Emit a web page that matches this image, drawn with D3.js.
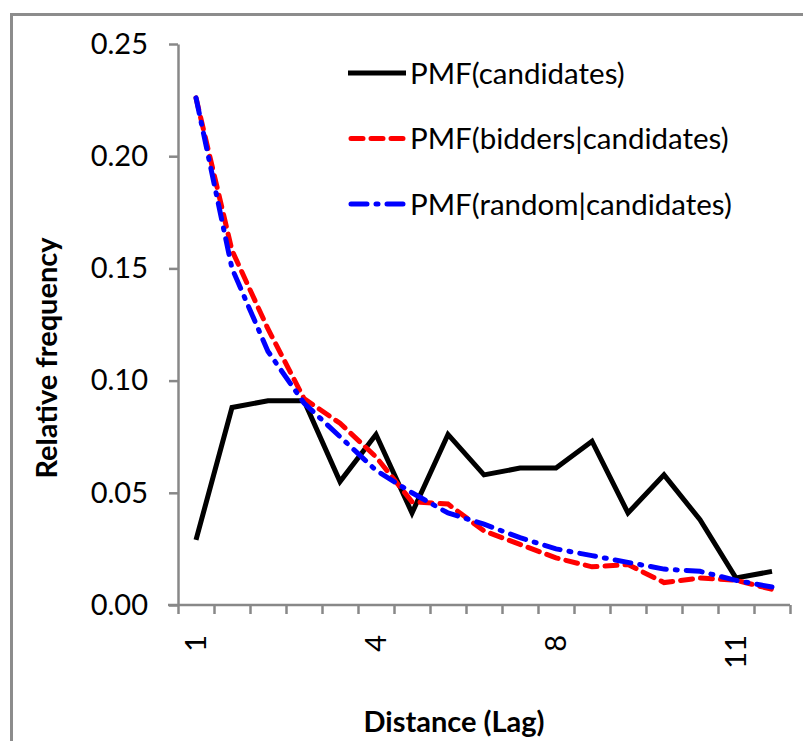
<!DOCTYPE html>
<html>
<head>
    <title>PMF of distance (lag)</title>
    <script src="https://d3js.org/d3.v7.min.js"></script>
    <style>
        body { margin: 0; background: #fff; }
        text { font-family: Lato, "Open Sans", sans-serif; }
    </style>
</head>
<body>
    <div id="chart"></div>

    <script>
        // one entry per lag bin, only every 5th bin carries a label
        const lagBins = d3.range(17);
        const tickLabels = ["1", "", "", "", "", "4", "", "", "", "", "8", "", "", "", "", "11", ""];

        const candidates = [0.029, 0.088, 0.091, 0.091, 0.055, 0.076, 0.041, 0.076, 0.058, 0.061, 0.061, 0.073, 0.041, 0.058, 0.038, 0.012, 0.015];
        const bidders    = [0.226, 0.158, 0.123, 0.092, 0.081, 0.066, 0.046, 0.045, 0.033, 0.027, 0.021, 0.017, 0.018, 0.010, 0.012, 0.011, 0.007];
        const random     = [0.226, 0.150, 0.113, 0.090, 0.075, 0.060, 0.050, 0.041, 0.036, 0.030, 0.025, 0.022, 0.019, 0.016, 0.015, 0.011, 0.008];

        const yTicks = [0, 0.05, 0.10, 0.15, 0.20, 0.25];

        const series = [
            {name: "PMF(candidates)", values: candidates, color: "#000", dash: null},
            {name: "PMF(bidders|candidates)", values: bidders, color: "#ff0000", dash: "12,8"},
            {name: "PMF(random|candidates)", values: random, color: "#0000ff", dash: "16,9,2,9"}
        ];

        const width = 803, height = 741;
        const plot = {left: 178, right: 790, top: 44, bottom: 605};
        const axisColor = "#888888";

        const svg = d3.select("#chart").append("svg")
            .attr("width", width)
            .attr("height", height);

        // outer chart frame (runs off the right and bottom edges)
        svg.append("rect")
            .attr("x", 11.5).attr("y", 14.5)
            .attr("width", 900).attr("height", 900)
            .attr("fill", "none")
            .attr("stroke", "#8c8c8c")
            .attr("stroke-width", 3);

        const x = d3.scaleBand()
            .domain(lagBins)
            .range([plot.left, plot.right]);

        // bin boundaries for the tick marks
        const xEdges = d3.scaleLinear()
            .domain([0, lagBins.length])
            .range([plot.left, plot.right]);

        const y = d3.scaleLinear()
            .domain([0, 0.25])
            .range([plot.bottom, plot.top]);

        // x axis: tick marks on bin edges
        const xTickAxis = svg.append("g")
            .attr("transform", "translate(0," + plot.bottom + ")")
            .call(d3.axisBottom(xEdges)
                .tickValues(d3.range(lagBins.length + 1))
                .tickSize(9)
                .tickSizeOuter(0)
                .tickFormat(""));

        // x axis labels, centred in bins and turned on their side
        const xLabelAxis = svg.append("g")
            .attr("transform", "translate(0," + plot.bottom + ")")
            .call(d3.axisBottom(x)
                .tickSize(0)
                .tickFormat(i => tickLabels[i]));
        xLabelAxis.select(".domain").remove();
        xLabelAxis.selectAll("text")
            .attr("transform", "rotate(-90)")
            .attr("text-anchor", "end")
            .attr("x", -30)
            .attr("y", 0)
            .attr("dy", "0.36em")
            .style("font-size", "29px")
            .style("fill", "#000");

        const yAxis = svg.append("g")
            .attr("transform", "translate(" + plot.left + ",0)")
            .call(d3.axisLeft(y)
                .tickValues(yTicks)
                .tickSize(9)
                .tickSizeOuter(0)
                .tickPadding(21)
                .tickFormat(d3.format(".2f")));
        yAxis.selectAll("text")
            .style("font-size", "29px")
            .style("fill", "#000");

        [xTickAxis, yAxis].forEach(g => {
            g.select(".domain").attr("stroke", axisColor).attr("stroke-width", 2.5);
            g.selectAll(".tick line").attr("stroke", axisColor).attr("stroke-width", 2.5);
        });
        xTickAxis.select(".domain").attr("d", "M" + (plot.left - 10) + ",0H" + plot.right);

        const line = d3.line()
            .x((d, i) => x(lagBins[i]) + x.bandwidth() / 2)
            .y(d => y(d));

        svg.selectAll(".series")
            .data(series)
            .enter().append("path")
            .attr("class", "series")
            .attr("d", d => line(d.values))
            .attr("fill", "none")
            .attr("stroke", d => d.color)
            .attr("stroke-width", 5)
            .attr("stroke-linecap", d => d.dash ? "round" : "butt")
            .attr("stroke-linejoin", "miter")
            .attr("stroke-dasharray", d => d.dash);

        // legend
        const rows = svg.append("g").selectAll("g")
            .data(series)
            .enter().append("g")
            .attr("transform", (d, i) => "translate(348," + (73 + i * 65.5) + ")");
        rows.append("line")
            .attr("x1", d => d.dash ? 3 : 0)
            .attr("x2", 58)
            .attr("stroke", d => d.color)
            .attr("stroke-width", 5)
            .attr("stroke-linecap", d => d.dash ? "round" : "butt")
            .attr("stroke-dasharray", d => d.dash);
        rows.append("text")
            .attr("x", 62)
            .attr("dy", "0.36em")
            .style("font-size", "29.5px")
            .text(d => d.name);

        // axis titles
        svg.append("text")
            .attr("x", 454)
            .attr("y", 732)
            .attr("text-anchor", "middle")
            .style("font-size", "29px")
            .style("font-weight", "bold")
            .text("Distance (Lag)");

        svg.append("text")
            .attr("transform", "translate(57,358) rotate(-90)")
            .attr("text-anchor", "middle")
            .style("font-size", "29px")
            .style("font-weight", "bold")
            .text("Relative frequency");
    </script>
</body>
</html>
